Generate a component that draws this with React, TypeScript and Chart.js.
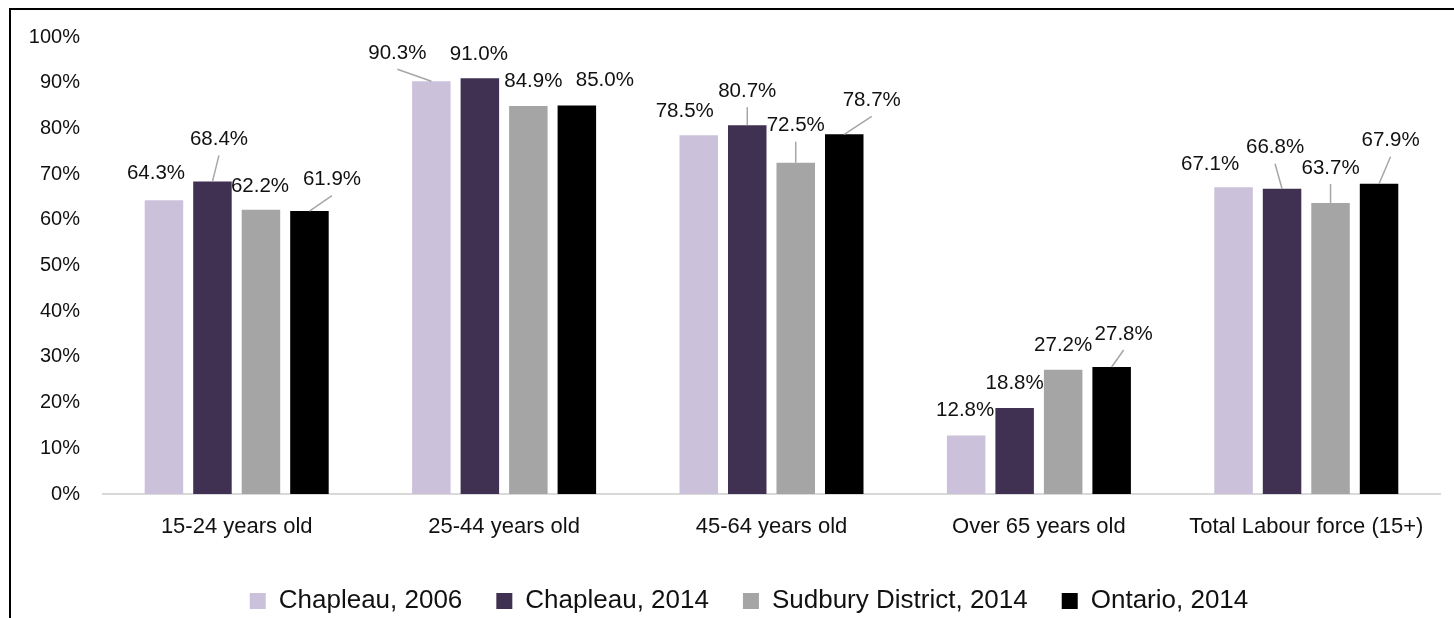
import { useEffect, useRef } from 'react';
import { Chart, registerables } from 'chart.js';

Chart.register(...registerables);

const categories = [
  '15-24 years old',
  '25-44 years old',
  '45-64 years old',
  'Over 65 years old',
  'Total Labour force (15+)',
];

const seriesNames = ['Chapleau, 2006', 'Chapleau, 2014', 'Sudbury District, 2014', 'Ontario, 2014'];

const chapleau2006 = [64.3, 90.3, 78.5, 12.8, 67.1];
const chapleau2014 = [68.4, 91.0, 80.7, 18.8, 66.8];
const sudbury2014 = [62.2, 84.9, 72.5, 27.2, 63.7];
const ontario2014 = [61.9, 85.0, 78.7, 27.8, 67.9];

const yTickValues = [0, 10, 20, 30, 40, 50, 60, 70, 80, 90, 100];

const seriesColors = ['#CCC1DA', '#403152', '#A5A5A5', '#000000'];

// Value label placement relative to the top centre of each bar: [dx, dy, leader line]
const labelOffsets: number[][][] = [
  [[-8, -26.5, 0], [-34, -28, 1], [-14, -24, 0], [-1, -25, 0], [-23.5, -23, 0]],
  [[6.5, -42, 1], [-1, -24, 0], [0, -34, 1], [0, -25, 0], [-7, -41, 1]],
  [[-1, -23, 0], [5, -25, 0], [0, -37, 1], [0, -24, 0], [0, -35, 1]],
  [[22.5, -31.5, 1], [28, -25, 0], [27.5, -34, 1], [12, -33, 1], [11.5, -43, 1]],
];

const FONT = '"Liberation Sans", Arial, sans-serif';
const TEXT = '#111111';

const valueLabels = {
  id: 'valueLabels',
  afterDatasetsDraw(chart: any) {
    const ctx = chart.ctx;
    ctx.save();
    ctx.font = `20.5px ${FONT}`;
    ctx.fillStyle = TEXT;
    ctx.textAlign = 'center';
    ctx.textBaseline = 'middle';
    chart.data.datasets.forEach((ds: any, i: number) => {
      const meta = chart.getDatasetMeta(i);
      meta.data.forEach((bar: any, j: number) => {
        const v = ds.data[j] as number;
        const [dx, dy, lead] = labelOffsets[i][j];
        const lx = bar.x + dx;
        const ly = bar.y + dy;
        if (lead) {
          ctx.strokeStyle = '#A6A6A6';
          ctx.lineWidth = 1.5;
          ctx.beginPath();
          ctx.moveTo(lx, ly + 16);
          ctx.lineTo(bar.x, bar.y);
          ctx.stroke();
        }
        ctx.fillText(v.toFixed(1) + '%', lx, ly);
      });
    });
    ctx.restore();
  },
};

// The legend sits a little right of the full-width centre, under the plot.
const legendShift = {
  id: 'legendShift',
  afterLayout(chart: any) {
    if (chart.legend) {
      chart.legend.left = 47;
    }
  },
};

export default function App() {
  const canvasRef = useRef<HTMLCanvasElement | null>(null);

  useEffect(() => {
    const canvas = canvasRef.current;
    if (!canvas) return;
    const seriesValues = [chapleau2006, chapleau2014, sudbury2014, ontario2014];
    const chart = new Chart(canvas, {
      type: 'bar',
      data: {
        labels: categories,
        datasets: seriesValues.map((values, i) => ({
          label: seriesNames[i],
          data: values,
          backgroundColor: seriesColors[i],
          borderWidth: 0,
          categoryPercentage: 0.7255,
          barPercentage: 0.794,
        })),
      },
      options: {
        responsive: false,
        animation: false,
        devicePixelRatio: 1,
        layout: { padding: { left: 17, right: 14, top: 0, bottom: 2 } },
        plugins: {
          legend: {
            position: 'bottom',
            labels: {
              boxWidth: 16,
              boxHeight: 16,
              padding: 34,
              color: TEXT,
              font: { family: FONT, size: 26 },
            },
          },
          tooltip: { enabled: false },
        },
        scales: {
          x: {
            grid: { display: false, drawTicks: false },
            border: { display: true, color: '#D9D9D9', width: 2 },
            ticks: { color: TEXT, font: { family: FONT, size: 22 }, padding: 20, maxRotation: 0, autoSkip: false },
            afterFit(scale: any) {
              scale.height = 60;
            },
          },
          y: {
            min: 0,
            max: 100,
            grid: { display: false, drawTicks: false },
            border: { display: false },
            ticks: {
              color: TEXT,
              font: { family: FONT, size: 20 },
              padding: 23,
              callback: (v: any) => `${v}%`,
            },
            afterBuildTicks(scale: any) {
              scale.ticks = yTickValues.map((value) => ({ value }));
            },
            afterFit(scale: any) {
              scale.width = 75;
            },
          },
        },
      },
      plugins: [valueLabels, legendShift],
    } as any);
    return () => chart.destroy();
  }, []);

  return (
    <div
      style={{
        position: 'fixed',
        left: 0,
        top: 0,
        width: 1454,
        height: 618,
        overflow: 'hidden',
        background: '#ffffff',
      }}
    >
      <div
        style={{
          position: 'absolute',
          left: 9,
          top: 8,
          width: 1480,
          height: 640,
          borderTop: '2px solid #000',
          borderLeft: '2px solid #000',
        }}
      />
      <canvas
        ref={canvasRef}
        width={1443}
        height={624}
        style={{ position: 'absolute', left: 11, top: 2, width: 1443, height: 624, display: 'block' }}
      />
    </div>
  );
}
